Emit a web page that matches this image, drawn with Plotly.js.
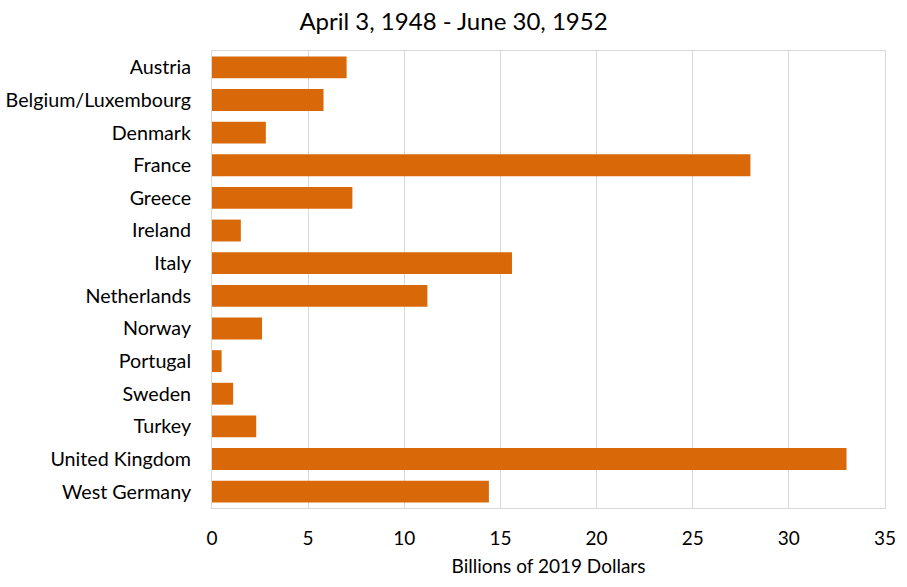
<!DOCTYPE html>
<html>
<head>
<meta charset="utf-8">
<script src="https://cdn.plot.ly/plotly-3.0.1.min.js"></script>
<style>
  html, body { margin: 0; padding: 0; background: #ffffff; }
  #grafico { width: 907px; height: 587px; }
</style>
</head>
<body>
<div id="grafico"></div>
<script>
// Datos (miles de millones, dólares de 2019)
const paises = [
  'Austria', 'Belgium/Luxembourg', 'Denmark', 'France', 'Greece', 'Ireland', 'Italy',
  'Netherlands', 'Norway', 'Portugal', 'Sweden', 'Turkey', 'United Kingdom', 'West Germany'
];
const montos = [7.0, 5.8, 2.8, 28.0, 7.3, 1.5, 15.6, 11.2, 2.6, 0.5, 1.1, 2.3, 33.0, 14.4];
const ticksX = [0, 5, 10, 15, 20, 25, 30, 35];

const fuente = 'Lato, "Open Sans", sans-serif';

const traza = {
  type: 'bar',
  orientation: 'h',
  x: montos,
  y: paises,
  marker: { color: '#d96808' },
  hoverinfo: 'x+y'
};

const layout = {
  title: {
    text: 'April 3, 1948 - June 30, 1952',
    font: { family: fuente, size: 24, color: '#000000' },
    x: 0.5, xanchor: 'center',
    y: 0.978, yanchor: 'top'
  },
  xaxis: {
    range: [0, 35],
    tickvals: ticksX,
    showgrid: true,
    gridcolor: '#d9d9d9',
    showline: true,
    linecolor: '#d9d9d9',
    mirror: true,
    zeroline: false,
    ticks: '',
    ticklabelstandoff: 13,
    tickfont: { family: fuente, size: 19, color: '#000000' },
    title: {
      text: 'Billions of 2019 Dollars',
      font: { family: fuente, size: 19, color: '#000000' },
      standoff: 11
    }
  },
  yaxis: {
    autorange: 'reversed',
    showline: true,
    linecolor: '#d9d9d9',
    mirror: true,
    showgrid: false,
    ticks: '',
    ticklabelstandoff: 16,
    tickfont: { family: fuente, size: 19.7, color: '#000000' }
  },
  bargap: 0.33,
  plot_bgcolor: '#ffffff',
  paper_bgcolor: '#ffffff',
  margin: { l: 212, r: 22, t: 51, b: 79 },
  showlegend: false
};

Plotly.newPlot('grafico', [traza], layout, { displayModeBar: false, responsive: false });
</script>
</body>
</html>
